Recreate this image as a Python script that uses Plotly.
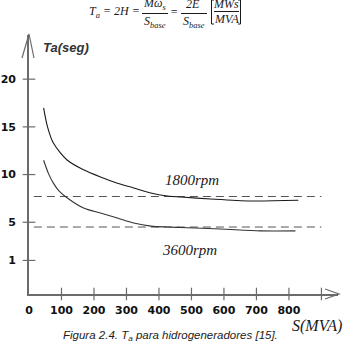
import plotly.graph_objects as go

# ---------------- data ----------------
s_1800 = [45, 57, 75, 118, 168, 220, 272, 322, 375, 426, 466, 558, 682, 829]
ta_1800 = [17.0, 15.0, 13.3, 11.5, 10.5, 9.75, 9.1, 8.6, 8.07, 7.76, 7.65, 7.44, 7.23, 7.3]

s_3600 = [45, 60, 75, 92, 118, 168, 220, 272, 322, 375, 426, 466, 589, 712, 820]
ta_3600 = [11.5, 10.1, 9.1, 8.3, 7.55, 6.5, 5.97, 5.45, 4.93, 4.6, 4.5, 4.45, 4.3, 4.1, 4.1]

asym_1800 = 7.7
asym_3600 = 4.5
asym_s = [15, 900]

x_tick_vals = [0, 100, 200, 300, 400, 500, 600, 700, 800]
x_tick_text = ["0", "100", "200", "300", "400", "500", "600", "700", "800"]
x_mark_vals = [100, 200, 300, 400, 500, 600, 700, 800, 900]
y_tick_vals = [1, 5, 10, 15, 20]
y_tick_text = ["1", "5", "10", "15", "20"]

# ---------------- layout geometry ----------------
W, H = 355, 343
ML, MR, MT, MB = 29, 17, 35, 49
XR = [0, 951]
YR = [-2.52, 24.63]
PW = W - ML - MR
PH = H - MT - MB


def px(x):
    return (x - ML) / PW


def py(y):
    return (H - MB - y) / PH


AX = "#6b6b6b"
fig = go.Figure()

fig.add_trace(go.Scatter(x=asym_s, y=[asym_1800] * 2, mode="lines",
                         line=dict(color="#555", width=1, dash="8px,5px"), hoverinfo="skip"))
fig.add_trace(go.Scatter(x=asym_s, y=[asym_3600] * 2, mode="lines",
                         line=dict(color="#555", width=1, dash="8px,5px"), hoverinfo="skip"))
fig.add_trace(go.Scatter(x=s_1800, y=ta_1800, mode="lines", line_shape="spline",
                         line=dict(color="#1a1a1a", width=1.1, smoothing=0.8)))
fig.add_trace(go.Scatter(x=s_3600, y=ta_3600, mode="lines", line_shape="spline",
                         line=dict(color="#333", width=1.1, smoothing=0.8)))

# crossing tick marks
fig.add_trace(go.Scatter(x=x_mark_vals, y=[YR[0]] * len(x_mark_vals), mode="markers",
                         marker=dict(symbol="line-ns", size=9, line=dict(color=AX, width=1.2)),
                         cliponaxis=False, hoverinfo="skip"))
fig.add_trace(go.Scatter(x=[XR[0]] * len(y_tick_vals), y=y_tick_vals, mode="markers",
                         marker=dict(symbol="line-ew", size=9, line=dict(color=AX, width=1.2)),
                         cliponaxis=False, hoverinfo="skip"))

tickfont = dict(family="DejaVu Sans", size=11, color="#111", weight="bold")
fig.update_layout(
    width=W, height=H, showlegend=False,
    margin=dict(l=ML, r=MR, t=MT, b=MB, pad=0),
    paper_bgcolor="white", plot_bgcolor="white",
    xaxis=dict(range=XR, showgrid=False, zeroline=False, showline=True, linecolor=AX, linewidth=1.6,
               tickmode="array", tickvals=x_tick_vals, ticktext=x_tick_text, automargin=False,
               ticks="outside", ticklen=5, tickcolor="rgba(0,0,0,0)", tickfont=tickfont),
    yaxis=dict(range=YR, showgrid=False, zeroline=False, showline=True, linecolor=AX, linewidth=1.6,
               tickmode="array", tickvals=y_tick_vals, ticktext=y_tick_text, automargin=False,
               ticks="outside", ticklen=9, tickcolor="rgba(0,0,0,0)", tickfont=tickfont),
)

# axis arrow heads
fig.add_shape(type="path", xref="paper", yref="paper",
              path=f"M {px(325)} {py(289)} L {px(339)} {py(294)} L {px(325)} {py(299)}",
              line=dict(color=AX, width=1.2))
fig.add_shape(type="path", xref="paper", yref="paper",
              path=f"M {px(22)} {py(58)} L {px(29)} {py(34)} L {px(34)} {py(58)}",
              line=dict(color=AX, width=1.2))


def txt(x, y, s, size, family, color="#1a1a1a", italic=True, bold=False, anchor="center"):
    fig.add_annotation(x=px(x), y=py(y), xref="paper", yref="paper", text=s, showarrow=False,
                       xanchor=anchor, yanchor="middle",
                       font=dict(size=size, family=family, color=color,
                                 style="italic" if italic else "normal",
                                 weight="bold" if bold else "normal"))


SERIF = "Liberation Serif"
txt(66, 47, "Ta(seg)", 13, "Liberation Sans", color="#333", bold=True)
txt(192, 180, "1800rpm", 15, SERIF)
txt(189, 250, "3600rpm", 15, SERIF)
txt(317, 326, "S(MVA)", 16, SERIF)
txt(170, 336, "Figura 2.4. T<sub>a</sub> para hidrogeneradores [15].", 11.5, "Liberation Sans", color="#222")

# formula header
HS = 12
txt(114, 12, "T<sub>a</sub> = 2H =", HS, SERIF)
txt(154, 4, "Mω<sub>s</sub>", HS, SERIF)
txt(155, 22, "S<sub>base</sub>", HS, SERIF)
txt(174, 12, "=", HS, SERIF)
txt(193, 4, "2E", HS, SERIF)
txt(194, 22, "S<sub>base</sub>", HS, SERIF)
txt(226, 4, "MWs", HS, SERIF)
txt(226, 19, "MVA", HS, SERIF)
for a, b, yy in [(142, 168, 13.5), (181, 207, 13.5), (214, 239, 11.5)]:
    fig.add_shape(type="line", xref="paper", yref="paper", x0=px(a), x1=px(b), y0=py(yy), y1=py(yy),
                  line=dict(color="#1a1a1a", width=1))
# brackets
fig.add_shape(type="path", xref="paper", yref="paper",
              path=f"M {px(214)} {py(0)} L {px(211.5)} {py(0)} L {px(211.5)} {py(24)} L {px(214)} {py(24)}",
              line=dict(color="#1a1a1a", width=1))
fig.add_shape(type="path", xref="paper", yref="paper",
              path=f"M {px(238)} {py(0)} L {px(240.5)} {py(0)} L {px(240.5)} {py(24)} L {px(238)} {py(24)}",
              line=dict(color="#1a1a1a", width=1))

fig.write_html("out.html")
